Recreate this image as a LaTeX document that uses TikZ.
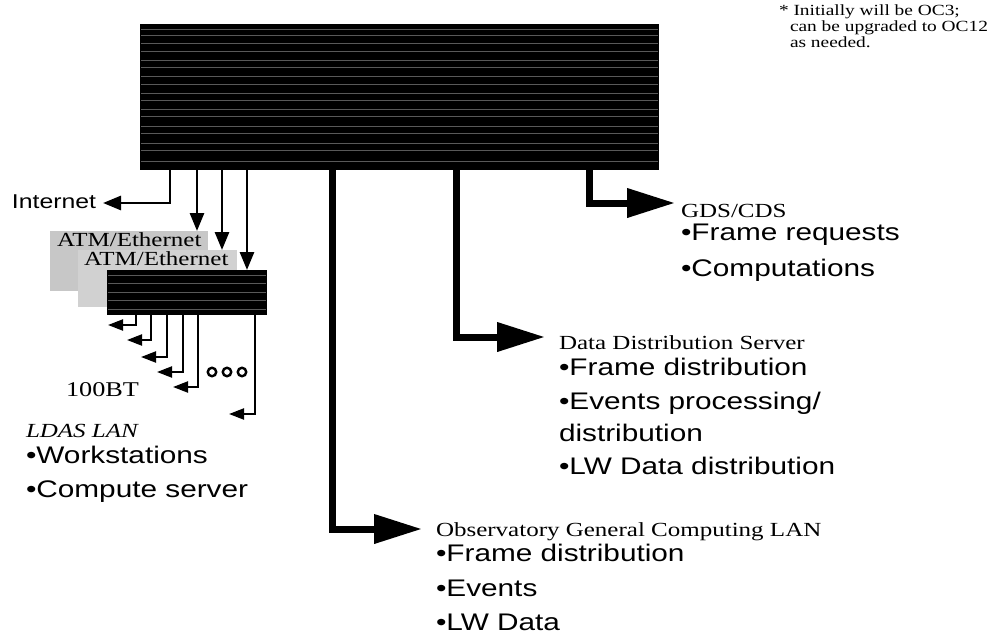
\documentclass[tikz,border=0pt]{standalone}
\usepackage{fontspec}
\setmainfont[FakeStretch=1.25]{Liberation Serif}
\setsansfont[FakeStretch=1.24]{Liberation Sans}
\usetikzlibrary{arrows.meta}
\begin{document}
\begin{tikzpicture}[x=1pt,y=-1pt,
  lbl/.style={anchor=base west,inner sep=0pt,outer sep=0pt},
  serif/.style={lbl,font=\fontsize{20}{24}\selectfont\rmfamily},
  sans/.style={lbl,font=\fontsize{24}{28}\selectfont\sffamily},
  note/.style={lbl,font=\fontsize{15.5}{18}\selectfont\rmfamily},
  bigarrow/.style={line width=7pt,-{Triangle[length=48pt,width=28pt]}},
  midarrow/.style={line width=2.8pt,-{Triangle[length=18pt,width=14pt]}},
  smallarrow/.style={line width=2.2pt,-{Triangle[length=15pt,width=11pt]}},
  blackbox/.style={fill=black,inner sep=0pt,anchor=north west},
  greybox/.style={fill=black!22,inner sep=0pt,anchor=north west},
  streak/.style={black!65,line width=0.5pt},
  ring/.style={circle,draw,line width=2.4pt,inner sep=0pt,minimum size=8.5pt},
]
\useasboundingbox (0,0) rectangle (998,637);

% main switch box
\node[blackbox,minimum width=519pt,minimum height=146pt] (core) at (140,24) {};
\foreach \yy in {29,35,43,51,60,67,76,84,93,100,109,116,126,133,143,150,161}
  \draw[streak] ([yshift=-\yy+24]core.north west) ++(1,0) -- ++(517,0);

% ATM/Ethernet boxes
\node[greybox,minimum width=158pt,minimum height=60pt] (atmA) at (50,231) {};
\node[serif] (atmAt) at (57,246) {ATM/Ethernet};
\node[greybox,fill=black!18,minimum width=159pt,minimum height=57pt] (atmB) at (78,250) {};
\node[serif] (atmBt) at (84,265) {ATM/Ethernet};
\node[blackbox,minimum width=160pt,minimum height=45pt] (atmC) at (107,270) {};
\foreach \yy in {275,283,292,300,309}
  \draw[streak] ([yshift=-\yy+270]atmC.north west) ++(1,0) -- ++(158,0);

% footnote
\node[note] (fn1) at (779,15) {* Initially will be OC3;};
\node[note] (fn2) at (790,31) {can be upgraded to OC12};
\node[note] (fn3) at (790,47) {as needed.};

% Internet
\node[lbl,font=\fontsize{20}{24}\selectfont\sffamily] (inet) at (12,208) {Internet};
\coordinate (dI) at (170,0);
\coordinate (tipI) at (103,203);
\draw[midarrow] (core.south -| dI) |- (tipI);

% drops to ATM boxes
\coordinate (dA) at (197,0);
\coordinate (dB) at (222,0);
\coordinate (dC) at (247,0);
\draw[midarrow] (core.south -| dA) -- (atmA.north -| dA);
\draw[midarrow] (core.south -| dB) -- (atmB.north -| dB);
\draw[midarrow] (core.south -| dC) -- (atmC.north -| dC);

% 100BT drops
\coordinate (t1) at (108,325);
\coordinate (t2) at (127,340);
\coordinate (t3) at (141,357);
\coordinate (t4) at (157,372);
\coordinate (t5) at (173,387);
\coordinate (t6) at (229,414);
\coordinate (x1) at (136,0);
\coordinate (x2) at (151,0);
\coordinate (x3) at (167,0);
\coordinate (x4) at (183,0);
\coordinate (x5) at (198,0);
\coordinate (x6) at (255,0);
\foreach \i in {1,...,6}
  \draw[smallarrow] (atmC.south -| x\i) |- (t\i);
\node[ring] (o1) at (212,372) {};
\node[ring] (o2) at (227,372) {};
\node[ring] (o3) at (242,372) {};

\node[serif,font=\fontsize{21}{24}\selectfont\rmfamily] (bt) at (66,396) {100BT};
\node[serif,font=\fontsize{20}{24}\selectfont\rmfamily\itshape] (ldas) at (26,437) {LDAS LAN};
\node[sans] (ws) at (26,463) {•Workstations};
\node[sans] (cs) at (26,497) {•Compute server};

% GDS/CDS
\coordinate (dG) at (589,0);
\coordinate (tipG) at (675,203);
\draw[bigarrow] (core.south -| dG) |- (tipG);
\node[serif] (gds) at (681,217) {GDS/CDS};
\node[sans] (gds1) at (681,240) {•Frame requests};
\node[sans] (gds2) at (681,276) {•Computations};

% Data Distribution Server
\coordinate (dD) at (456,0);
\coordinate (tipD) at (545,337);
\draw[bigarrow] (core.south -| dD) |- (tipD);
\node[serif] (dds) at (559,349) {Data Distribution Server};
\node[sans] (dds1) at (559,375) {•Frame distribution};
\node[sans] (dds2) at (559,409) {•Events processing/};
\node[sans] (dds3) at (559,441) {distribution};
\node[sans] (dds4) at (559,474) {•LW Data distribution};

% Observatory General Computing LAN
\coordinate (dO) at (332,0);
\coordinate (tipO) at (422,529);
\draw[bigarrow] (core.south -| dO) |- (tipO);
\node[serif] (ogc) at (436,536) {Observatory General Computing LAN};
\node[sans] (ogc1) at (436,561) {•Frame distribution};
\node[sans] (ogc2) at (436,596) {•Events};
\node[sans] (ogc3) at (436,630) {•LW Data};
\end{tikzpicture}
\end{document}
